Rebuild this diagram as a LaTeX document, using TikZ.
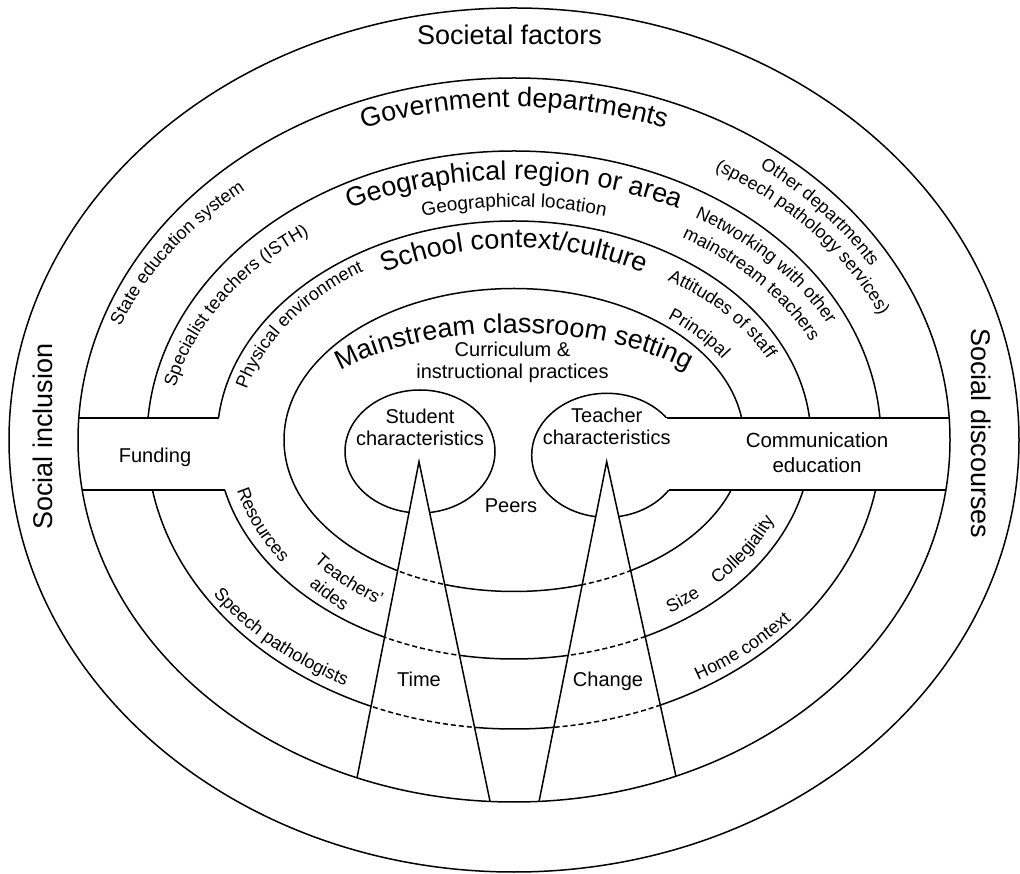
\documentclass[tikz,border=0pt]{standalone}
\usepackage{fontspec}
\setmainfont{Liberation Sans}
\usetikzlibrary{decorations.text}
\newcommand{\headfont}{\fontsize{27}{32}\selectfont}
\newcommand{\ringfont}{\fontsize{18}{21}\selectfont}
\tikzset{
  ring/.style={line width=1.5pt},
  hidden ring/.style={line width=1.5pt,dash pattern=on 5pt off 3pt},
  ringlabel/.style={decorate,decoration={text along path,text align=center,text={#1}}},
  boxlabel/.style={font=\fontsize{20}{22}\selectfont,align=center,inner sep=0pt}
}
\begin{document}
\begin{tikzpicture}[x=1pt,y=1pt]
\useasboundingbox (0,0) rectangle (1020,873);
\coordinate (C) at (514,433);
% cone points on the government ring
\coordinate (SA) at (419,411.3);
\coordinate (SL) at ([shift={(C)}]248.9:436 and 362);
\coordinate (SR) at ([shift={(C)}]266.85:436 and 362);
\coordinate (TA) at (606.7,411.3);
\coordinate (TL) at ([shift={(C)}]273.3:436 and 362);
\coordinate (TR) at ([shift={(C)}]291.8:436 and 362);
% band corners
\coordinate (fund-nw) at (78.8,455);
\coordinate (fund-ne) at (218.5,455);
\coordinate (fund-sw) at (82.2,383);
\coordinate (fund-se) at (224.8,383);
\coordinate (comm-nw) at (666.9,455);
\coordinate (comm-ne) at (949.2,455);
\coordinate (comm-sw) at (669.2,383);
\coordinate (comm-se) at (945.8,383);

% rings cut by the bands and the cones
\begin{scope}[even odd rule]
\clip (0,0) rectangle (1020,873)
  (SA) -- (SL) -- (SR) -- cycle
  (TA) -- (TL) -- (TR) -- cycle
  (100,383) rectangle (240,455)
  (640,383) rectangle (960,455);
\draw[ring] (C) ellipse[x radius=367,y radius=289];
\draw[ring] (C) ellipse[x radius=297,y radius=219];
\draw[ring] (C) ellipse[x radius=230,y radius=151.5];
\draw[ring] (420,421.5) ellipse[x radius=75,y radius=61.5];
\draw[ring] (606.7,417.7) ellipse[x radius=75,y radius=62];
\end{scope}
\begin{scope}
\clip (SA) -- (SL) -- (SR) -- cycle (TA) -- (TL) -- (TR) -- cycle;
\draw[hidden ring] (C) ellipse[x radius=367,y radius=289];
\draw[hidden ring] (C) ellipse[x radius=297,y radius=219];
\draw[hidden ring] (C) ellipse[x radius=230,y radius=151.5];
\end{scope}

\draw[ring] (C) ellipse[x radius=505,y radius=432];
\draw[ring] (C) ellipse[x radius=436,y radius=362];
\draw[ring] (fund-nw) -- (fund-ne);
\draw[ring] (fund-sw) -- (fund-se);
\draw[ring] (comm-nw) -- (comm-ne);
\draw[ring] (comm-sw) -- (comm-se);
\draw[ring] (SL) -- (SA) -- (SR);
\draw[ring] (TL) -- (TA) -- (TR);

% straight labels
\node[font=\headfont,anchor=base] (societal) at (509.5,828) {Societal factors};
\node[font=\headfont,anchor=base,rotate=90] (inclusion) at (53,436.5) {Social inclusion};
\node[font=\headfont,anchor=base,rotate=-90] (discourses) at (971,439.5) {Social discourses};
\node[boxlabel,anchor=base] (funding) at (155,410) {Funding};
\node[boxlabel,font=\fontsize{20.5}{25}\selectfont] (commed) at (817,420) {Communication\\education};
\node[boxlabel] (curric) at (512.5,511) {Curriculum \&\\instructional practices};
\node[boxlabel] (student) at (420,446) {Student\\characteristics};
\node[boxlabel] (teacher) at (606.7,446.5) {Teacher\\characteristics};
\node[boxlabel,anchor=base] (peers) at (511,360) {Peers};
\node[boxlabel,anchor=base] (time) at (419,186) {Time};
\node[boxlabel,anchor=base] (change) at (608,186) {Change};

% ring headings
\path[ringlabel={|\headfont|Government departments}] ([shift={(C)}]150:428 and 333) arc[start angle=150,end angle=30,x radius=428,y radius=333];
\path[ringlabel={|\headfont|Geographical region or area}] ([shift={(C)}]150:359 and 260) arc[start angle=150,end angle=30,x radius=359,y radius=260];
\path[ringlabel={|\fontsize{19}{22}\selectfont|Geographical location}] ([shift={(C)}]150:328 and 233) arc[start angle=150,end angle=30,x radius=328,y radius=233];
\path[ringlabel={|\headfont|School context/culture}] ([shift={(C)}]150:262 and 192) arc[start angle=150,end angle=30,x radius=262,y radius=192];
\path[ringlabel={|\headfont|Mainstream classroom setting}] ([shift={(C)}]170:228 and 107) arc[start angle=170,end angle=10,x radius=228,y radius=107];

% upper left
\path[ringlabel={|\ringfont|State education system}] ([shift={(C)}]176:420 and 325) arc[start angle=176,end angle=116,x radius=420,y radius=325];
\path[ringlabel={|\ringfont|Specialist teachers (ISTH)}] ([shift={(C)}]180.5:346 and 255) arc[start angle=180.5,end angle=116.5,x radius=346,y radius=255];
\path[ringlabel={|\ringfont|Physical environment}] ([shift={(C)}]181:276 and 201) arc[start angle=181,end angle=111,x radius=276,y radius=201];
% upper right
\path[ringlabel={|\ringfont|Other departments}] ([shift={(C)}]71:415 and 338) arc[start angle=71,end angle=11,x radius=415,y radius=338];
\path[ringlabel={|\ringfont|(speech pathology services)}] ([shift={(C)}]75:399 and 312) arc[start angle=75,end angle=5,x radius=399,y radius=312];
\path[ringlabel={|\ringfont|Networking with other}] ([shift={(C)}]75.5:350 and 260) arc[start angle=75.5,end angle=5.5,x radius=350,y radius=260];
\path[ringlabel={|\ringfont|mainstream teachers}] ([shift={(C)}]74.5:326 and 236) arc[start angle=74.5,end angle=4.5,x radius=326,y radius=236];
\path[ringlabel={|\ringfont|Attitudes of staff}] ([shift={(C)}]69:280 and 191) arc[start angle=69,end angle=9,x radius=280,y radius=191];
\path[ringlabel={|\ringfont|Principal}] ([shift={(C)}]64:243 and 157) arc[start angle=64,end angle=14,x radius=243,y radius=157];
% lower left
\path[ringlabel={|\ringfont|Resources}] ([shift={(C)}]178.5:285 and 212) arc[start angle=178.5,end angle=228.5,x radius=285,y radius=212];
\path[ringlabel={|\ringfont|Teachers'}] ([shift={(C)}]202.5:257 and 194) arc[start angle=202.5,end angle=252.5,x radius=257,y radius=194];
\path[ringlabel={|\ringfont|aides}] ([shift={(C)}]206:275 and 218) arc[start angle=206,end angle=246,x radius=275,y radius=218];
\path[ringlabel={|\ringfont|Speech pathologists}] ([shift={(C)}]191:362 and 278) arc[start angle=191,end angle=261,x radius=362,y radius=278];
% lower right
\path[ringlabel={|\ringfont|Size}] ([shift={(C)}]293:282 and 208) arc[start angle=293,end angle=323,x radius=282,y radius=208];
\path[ringlabel={|\ringfont|Collegiality}] ([shift={(C)}]303:282 and 208) arc[start angle=303,end angle=353,x radius=282,y radius=208];
\path[ringlabel={|\ringfont|Home context}] ([shift={(C)}]286:365 and 278) arc[start angle=286,end angle=336,x radius=365,y radius=278];

\end{tikzpicture}
\end{document}
